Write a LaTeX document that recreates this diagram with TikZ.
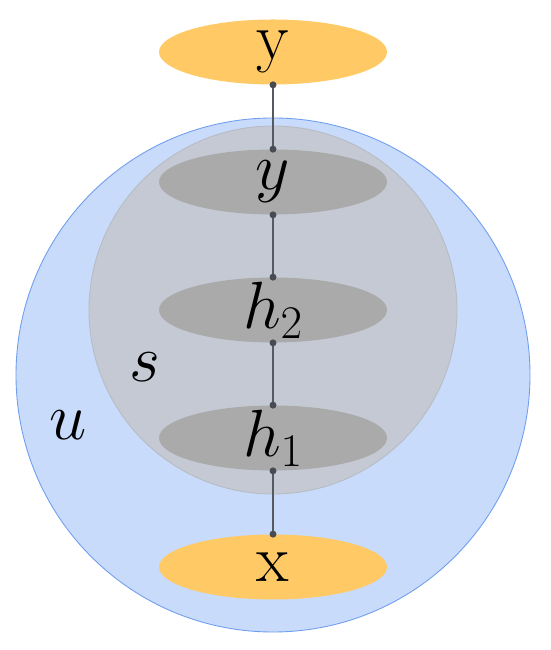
\RequirePackage{fix-cm}
\documentclass[tikz,border=0pt]{standalone}
\usepackage{amsmath}
\usetikzlibrary{shapes.geometric}
\definecolor{outerblue}{HTML}{C9DBFA}
\definecolor{outerline}{HTML}{6F9EEE}
\definecolor{innergray}{HTML}{C4C9D4}
\definecolor{innerline}{HTML}{B7BBC3}
\definecolor{layergray}{HTML}{AAAAAA}
\definecolor{ioorange}{HTML}{FFCA66}
\definecolor{wire}{HTML}{555960}
\tikzset{
  layer/.style={ellipse, minimum width=4.56cm, minimum height=1.3cm, inner sep=0pt,
    label={[font=\fontsize{38}{44}\selectfont, inner sep=0pt]center:#1}},
  iolayer/.style={layer=#1, fill=ioorange},
  hidlayer/.style={layer=#1, fill=layergray},
  wireline/.style={wire, line width=0.7pt},
  enddot/.style={fill=wire!85!black}
}
\begin{document}
\begin{tikzpicture}
\useasboundingbox (0,0) rectangle (11,13);
    % aeussere Kugel u:
    \fill[outerblue, draw=outerline, line width=0.5pt] (5.46,5.5) circle (5.14);
    % innere Kugel s:
    \fill[innergray, draw=innerline, line width=0.5pt] (5.46,6.8) circle (3.68);
    % Schichten:
    \node[iolayer={$\mathrm{y}$}] (yout) at (5.46,11.96) {}; % Ausgabe
    \node[hidlayer={$y$}] (ylat) at (5.46,9.36) {};
    \node[hidlayer={$h_2$}] (htwo) at (5.46,6.8) {};
    \node[hidlayer={$h_1$}] (hone) at (5.46,4.24) {};
    \node[iolayer={$\mathrm{x}$}] (xin) at (5.46,1.66) {}; % Eingabe
    % Beschriftungen:
    \node[font=\fontsize{38}{44}\selectfont] (slabel) at (2.9,5.66) {$s$};
    \node[font=\fontsize{38}{44}\selectfont] (ulabel) at (1.36,4.5) {$u$};
    % Verbindungen:
    \draw[wireline] (yout.south) -- (ylat.north);
    \draw[wireline] (ylat.south) -- (htwo.north);
    \draw[wireline] (htwo.south) -- (hone.north);
    \draw[wireline] (hone.south) -- (xin.north);
    % Punkte:
    \foreach \n in {yout.south, ylat.north, ylat.south, htwo.north, htwo.south, hone.north, hone.south, xin.north}
      \fill[enddot] (\n) circle (0.07);
\end{tikzpicture}
\end{document}
